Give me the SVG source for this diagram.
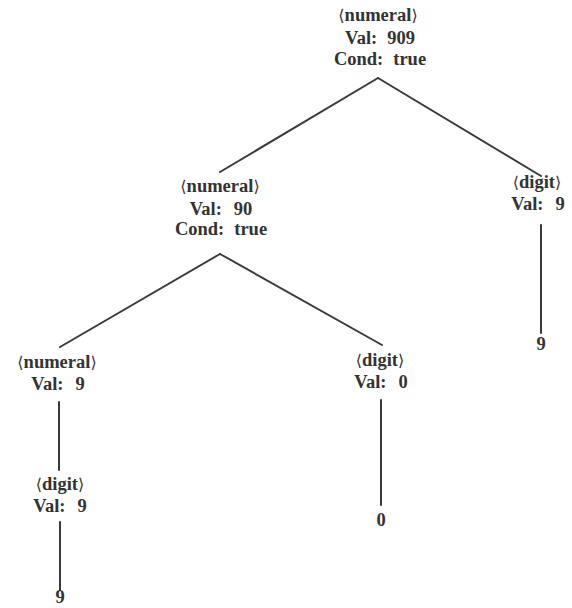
<svg xmlns="http://www.w3.org/2000/svg" width="572" height="608" viewBox="0 0 572 608">
<style>
text{font-family:"Liberation Serif","DejaVu Serif",serif;font-weight:bold;font-size:18.5px;fill:#333;text-anchor:middle}
.br{font-family:"DejaVu Serif","Liberation Serif",serif;font-weight:normal;font-size:16px}
line{stroke:#3a3a3a;stroke-width:2;stroke-linecap:round}
</style>
<rect width="572" height="608" fill="#fff"/>
<g id="connectors">
<line x1="378" y1="78" x2="220" y2="172"/>
<line x1="378" y1="78" x2="541" y2="176"/>
<line x1="220" y1="254" x2="60" y2="347"/>
<line x1="220" y1="254" x2="382" y2="345"/>
<line x1="541" y1="225" x2="541" y2="333"/>
<line x1="59" y1="402" x2="59" y2="470"/>
<line x1="381" y1="400" x2="381" y2="505"/>
<line x1="60" y1="522" x2="60" y2="590"/>
</g>
<g id="root">
<text x="378" y="21"><tspan class="br">⟨</tspan>numeral<tspan class="br">⟩</tspan></text>
<text x="380" y="44">Val:<tspan dx="10">909</tspan></text>
<text x="380" y="65">Cond:<tspan dx="10">true</tspan></text>
</g>
<g id="numeral90">
<text x="220" y="192"><tspan class="br">⟨</tspan>numeral<tspan class="br">⟩</tspan></text>
<text x="221" y="215">Val:<tspan dx="12">90</tspan></text>
<text x="221" y="235">Cond:<tspan dx="10">true</tspan></text>
</g>
<g id="digit9right">
<text x="537" y="188"><tspan class="br">⟨</tspan>digit<tspan class="br">⟩</tspan></text>
<text x="538" y="210">Val:<tspan dx="12">9</tspan></text>
</g>
<g id="leaf9right">
<text x="541" y="350">9</text>
</g>
<g id="numeral9">
<text x="57" y="368"><tspan class="br">⟨</tspan>numeral<tspan class="br">⟩</tspan></text>
<text x="58" y="390">Val:<tspan dx="12">9</tspan></text>
</g>
<g id="digit0">
<text x="380" y="366"><tspan class="br">⟨</tspan>digit<tspan class="br">⟩</tspan></text>
<text x="381" y="388">Val:<tspan dx="12">0</tspan></text>
</g>
<g id="leaf0">
<text x="381" y="526">0</text>
</g>
<g id="digit9left">
<text x="60" y="490"><tspan class="br">⟨</tspan>digit<tspan class="br">⟩</tspan></text>
<text x="60" y="512">Val:<tspan dx="12">9</tspan></text>
</g>
<g id="leaf9left">
<text x="60" y="603">9</text>
</g>
</svg>
